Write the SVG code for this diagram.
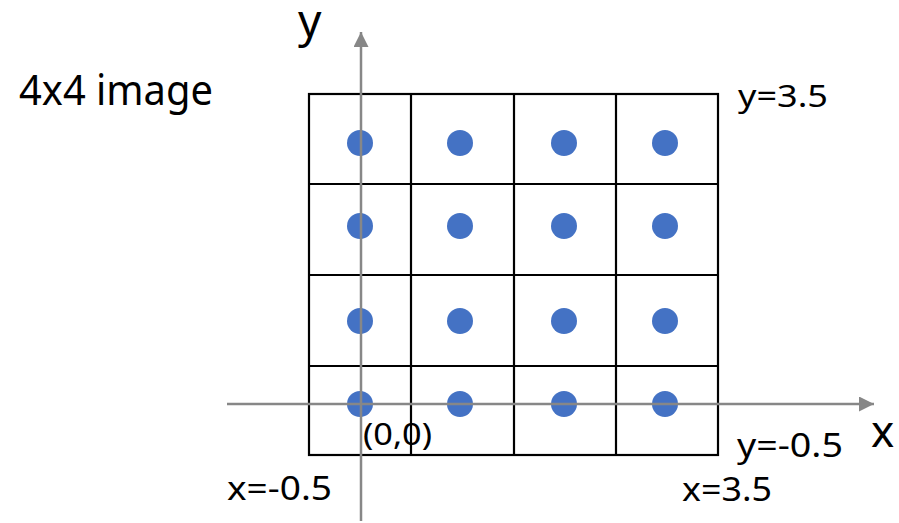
<svg xmlns="http://www.w3.org/2000/svg" width="899" height="523" viewBox="0 0 899 523">
<defs>
<style>
.t{font-family:"Noto Sans","Open Sans",sans-serif;fill:#000}
.g{fill:none;stroke:#000;stroke-width:2.2}
.d{fill:#4472C4}
.ax{stroke:#878787;stroke-width:2.5;fill:none}
</style>
<marker id="ah" markerWidth="16" markerHeight="16" refX="15" refY="7.5" orient="auto" markerUnits="userSpaceOnUse">
<path d="M0,0 L15,7.5 L0,15 Z" fill="#878787"/>
</marker>
</defs>
<rect width="899" height="523" fill="#fff"/>
<g id="grid">
<rect class="g" x="309" y="94" width="409" height="361"/>
<path class="g" d="M411,94V455M514,94V455M616,94V455M309,184H718M309,275H718M309,366H718"/>
</g>
<g id="dots">
<circle class="d" cx="360" cy="143" r="13"/><circle class="d" cx="460" cy="143" r="13"/><circle class="d" cx="564" cy="143" r="13"/><circle class="d" cx="665" cy="143" r="13"/>
<circle class="d" cx="360" cy="226" r="13"/><circle class="d" cx="460" cy="226" r="13"/><circle class="d" cx="564" cy="226" r="13"/><circle class="d" cx="665" cy="226" r="13"/>
<circle class="d" cx="360" cy="321" r="13"/><circle class="d" cx="460" cy="321" r="13"/><circle class="d" cx="564" cy="321" r="13"/><circle class="d" cx="665" cy="321" r="13"/>
<circle class="d" cx="360" cy="404" r="13"/><circle class="d" cx="460" cy="404" r="13"/><circle class="d" cx="564" cy="404" r="13"/><circle class="d" cx="665" cy="404" r="13"/>
</g>
<g id="axes">
<line class="ax" x1="361" y1="521" x2="361" y2="32" marker-end="url(#ah)"/>
<line class="ax" x1="227" y1="404" x2="874" y2="404" marker-end="url(#ah)"/>
</g>
<g id="labels">
<text class="t" x="298" y="37" font-size="46">y</text>
<text class="t" x="19" y="105" font-size="41" textLength="194" lengthAdjust="spacingAndGlyphs">4x4 image</text>
<text class="t" x="738" y="107" font-size="31" textLength="90" lengthAdjust="spacingAndGlyphs">y=3.5</text>
<text class="t" x="363" y="445" font-size="31" textLength="69" lengthAdjust="spacingAndGlyphs">(0,0)</text>
<text class="t" x="737" y="457" font-size="33" textLength="106" lengthAdjust="spacingAndGlyphs">y=-0.5</text>
<text class="t" x="871" y="447" font-size="44">x</text>
<text class="t" x="227" y="500" font-size="33" textLength="105" lengthAdjust="spacingAndGlyphs">x=-0.5</text>
<text class="t" x="682" y="501" font-size="33" textLength="90" lengthAdjust="spacingAndGlyphs">x=3.5</text>
</g>
</svg>
